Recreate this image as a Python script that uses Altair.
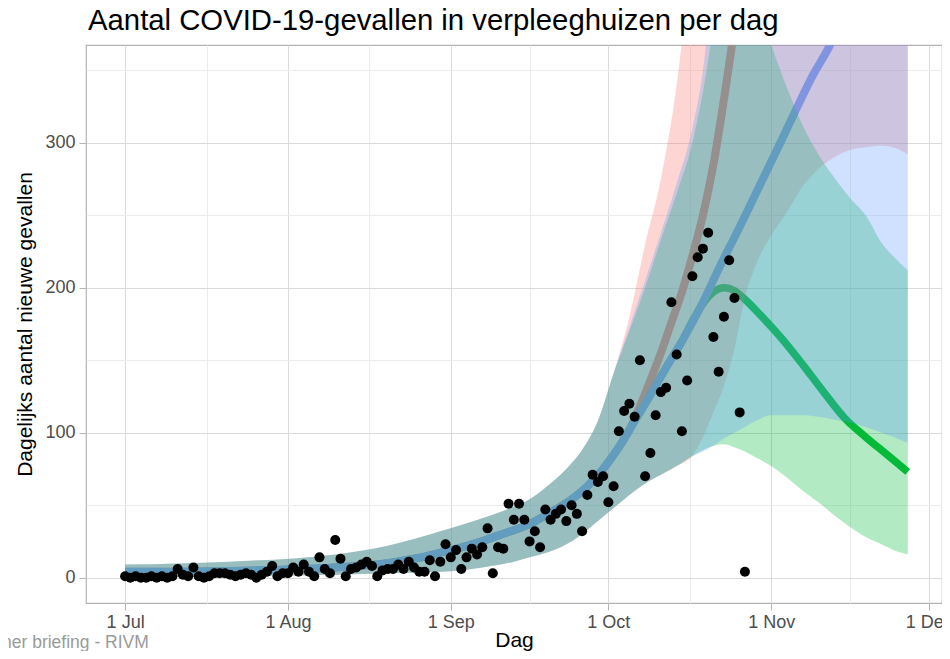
import altair as alt
import pandas as pd

TITLE = "Aantal COVID-19-gevallen in verpleeghuizen per dag"
Y_TITLE = "Dagelijks aantal nieuwe gevallen"
X_TITLE = "Dag"
CAPTION = "ner briefing - RIVM"
FONT = "Liberation Sans"

# x axis: days since 1 July
month_days = [0, 31, 62, 92, 123, 153]
month_labels = ["1 Jul", "1 Aug", "1 Sep", "1 Oct", "1 Nov", "1 Dec"]
minor_days = [15.5, 46.5, 77, 107.5, 138]
y_ticks = [0, 50, 100, 150, 200, 250, 300, 350]

# daily reported cases (one per day from 1 Jul)
cases = [1, 0, 1, 0, 0, 1, 0, 1, 0, 1,
         6, 2, 1, 7, 1, 0, 1, 3, 3, 3,
         2, 1, 2, 3, 2, 0, 2, 4, 8, 1,
         3, 3, 7, 4, 9, 4, 1, 14, 6, 3,
         26, 13, 1, 6, 7, 9, 11, 8, 1, 5,
         6, 6, 9, 6, 11, 7, 4, 4, 12, 1,
         11, 23, 14, 19, 6, 14, 20, 16, 21, 34,
         3, 21, 20, 51, 40, 51, 40, 25, 32, 21,
         47, 40, 44, 47, 39, 50, 44, 32, 57, 71,
         66, 70, 52, 63, 101, 115, 120, 111, 150, 70,
         86, 112, 128, 131, 190, 154, 101, 136, 208, 221,
         227, 238, 166, 142, 180, 219, 193, 114, 4]
case_days = list(range(len(cases)))

# scenario lines
blue_days = [0, 10, 20, 30, 40, 50, 55, 62, 67, 71, 77, 81, 85, 88, 91, 94, 97, 100, 103, 106,
             110, 113, 117, 121, 125, 128, 131, 134, 137]
blue_vals = [4, 4, 4.5, 5.5, 7, 10, 13, 19, 24, 29, 37, 45, 54, 63, 75, 90, 108, 126, 145, 163,
             190, 213, 242, 272, 302, 325, 347, 366, 390]
red_days = [0, 10, 20, 30, 40, 50, 55, 62, 67, 71, 77, 81, 85, 88, 91, 94, 96, 98, 100, 102,
            104, 106, 108, 110, 112, 114, 116, 118]
red_vals = [4, 4, 4.5, 5.5, 7, 10, 13, 19, 24, 29, 37, 45, 54, 63, 75, 90, 102, 118, 136, 155,
            176, 197, 222, 250, 285, 330, 380, 440]
green_days = [0, 10, 20, 30, 40, 50, 55, 62, 67, 71, 77, 81, 85, 88, 91, 94, 97, 100, 103, 106,
              108, 110, 112, 114, 116, 118, 121, 125, 129, 133, 137, 141, 145, 149]
green_vals = [4, 4, 4.5, 5.5, 7, 10, 13, 19, 24, 29, 37, 45, 54, 63, 75, 90, 108, 126, 145, 163,
              177, 189, 197, 200, 198, 192, 181, 165, 147, 128, 110, 97, 85, 73]

# uncertainty ribbons
rib_days = [0, 20, 40, 50, 60, 68, 74, 77, 80, 84, 87, 90, 93, 96, 99, 102, 105, 108, 110, 112,
            114, 116, 118, 120, 123, 126, 129, 132, 135, 138, 141, 144, 147, 149]
red_lo = [0.5, 1, 2, 3, 4, 7, 11, 14, 17, 23, 30, 39, 48, 57, 65, 71, 77, 84, 97, 114,
          132, 158, 193, 215, 236, 252, 270, 282, 290, 295, 297, 298, 296, 292]
red_hi = [9, 11, 16, 22, 32, 41, 49, 54, 62, 75, 88, 108, 141, 180, 230, 275, 340, 440, 520, 520,
          520, 520, 520, 520, 520, 520, 520, 520, 520, 520, 520, 520, 520, 520]
green_lo = [0.5, 1, 2, 3, 4, 7, 11, 14, 17, 23, 30, 39, 48, 57, 65, 71, 77, 84, 88, 91,
            92, 90, 87, 83, 77, 69, 60, 52, 43, 35, 28, 23, 18, 16]
green_hi = [9, 11, 16, 22, 32, 41, 49, 54, 62, 75, 88, 108, 141, 170, 200, 233, 265, 300, 335, 380,
            420, 440, 430, 405, 368, 338, 312, 292, 276, 262, 250, 231, 219, 212]
blue_lo = [0.5, 1, 2, 3, 4, 7, 11, 14, 17, 23, 30, 39, 48, 57, 65, 71, 77, 84, 87, 91,
           96, 100, 104, 108, 112, 112, 112, 111, 109, 107, 104, 100, 96, 93]
blue_hi = [9, 11, 16, 22, 32, 41, 49, 54, 62, 75, 88, 108, 141, 173, 205, 238, 272, 310, 350, 420,
           520, 520, 520, 520, 520, 520, 520, 520, 520, 520, 520, 520, 520, 520]

RED, GREEN, BLUE = "#F8766D", "#00BA38", "#619CFF"

x_major_test = "indexof([" + ",".join(str(d) for d in month_days) + "], datum.value) >= 0"
x_label_expr = " : ".join(f"datum.value === {d} ? '{l}'" for d, l in zip(month_days, month_labels)) + " : ''"
y_major_test = "datum.value % 100 === 0"

xscale = alt.Scale(domain=[-7.45, 155.52], nice=False, zero=False)
yscale = alt.Scale(domain=[-17.5, 367.5], nice=False, zero=False)

axis_common = dict(domain=False, tickSize=7, labelFont=FONT, titleFont=FONT,
                   labelFontSize=18, labelColor="#4d4d4d", titleFontSize=21,
                   titleColor="#000000", titleFontWeight="normal",
                   labelOverlap=False, labelFlush=False, gridWidth=1)

x_axis = alt.Axis(values=sorted(month_days + minor_days), labelExpr=x_label_expr,
                  gridColor={"condition": {"test": x_major_test, "value": "#dadada"}, "value": "#ececec"},
                  tickColor={"condition": {"test": x_major_test, "value": "#b3b3b3"}, "value": "transparent"},
                  title=X_TITLE, labelPadding=3, titlePadding=-2, **axis_common)
y_axis = alt.Axis(values=y_ticks, labelExpr="datum.value % 100 === 0 ? datum.label : ''",
                  gridColor={"condition": {"test": y_major_test, "value": "#dadada"}, "value": "#ececec"},
                  tickColor={"condition": {"test": y_major_test, "value": "#b3b3b3"}, "value": "transparent"},
                  title=Y_TITLE, labelPadding=4, titlePadding=9, **axis_common)


def X():
    return alt.X("day:Q", scale=xscale, axis=x_axis)


def line_layer(days, vals, color, width):
    df = pd.DataFrame({"day": days, "val": vals})
    return alt.Chart(df).mark_line(color=color, strokeWidth=width, clip=True,
                                   interpolate="monotone").encode(
        x=X(), y=alt.Y("val:Q", scale=yscale, axis=y_axis))


def ribbon_layer(lo, hi, color):
    df = pd.DataFrame({"day": rib_days, "lo": lo, "hi": hi})
    return alt.Chart(df).mark_area(color=color, opacity=0.3, clip=True,
                                   interpolate="monotone").encode(
        x=X(), y=alt.Y("lo:Q", scale=yscale, axis=y_axis), y2="hi:Q")


points = alt.Chart(pd.DataFrame({"day": case_days, "val": cases})).mark_circle(
    color="#000000", opacity=1, size=100).encode(
    x=X(), y=alt.Y("val:Q", scale=yscale, axis=y_axis))

title_txt = alt.Chart(pd.DataFrame({"t": [TITLE]})).mark_text(
    font=FONT, fontSize=29.3, color="#000000", align="left", baseline="alphabetic").encode(
    x=alt.value(2), y=alt.value(-15), text="t:N")

caption_txt = alt.Chart(pd.DataFrame({"t": [CAPTION]})).mark_text(
    font=FONT, fontSize=17.5, color="#9a9a9a", align="left", baseline="alphabetic").encode(
    x=alt.value(-84), y=alt.value(603), text="t:N")

chart = alt.layer(
    line_layer(red_days, red_vals, RED, 8),
    line_layer(green_days, green_vals, GREEN, 7.5),
    line_layer(blue_days, blue_vals, BLUE, 8),
    ribbon_layer(red_lo, red_hi, RED),
    ribbon_layer(green_lo, green_hi, GREEN),
    ribbon_layer(blue_lo, blue_hi, BLUE),
    points,
    title_txt,
    caption_txt,
).properties(
    width=856, height=558,
    autosize=alt.AutoSizeParams(type="none"),
    padding={"left": 78, "top": 37, "right": 0, "bottom": 48},
    background="white",
).configure_view(stroke="#b3b3b3", strokeWidth=1.2)

chart.save("out.html", embed_options={"renderer": "svg", "actions": False})
